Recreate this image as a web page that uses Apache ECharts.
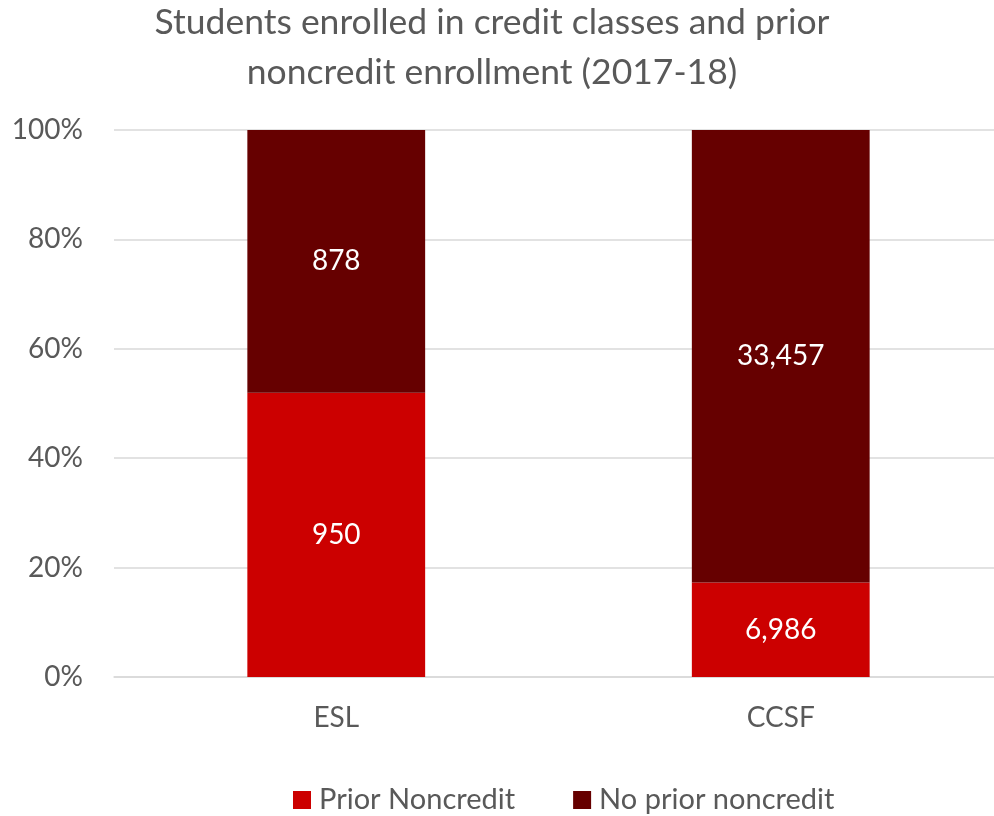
<!DOCTYPE html>
<html>
<head>
<meta charset="utf-8">
<script src="https://cdn.jsdelivr.net/npm/echarts@6/dist/echarts.min.js"></script>
<style>html,body{margin:0;padding:0;background:#fff;overflow:hidden;width:994px;height:816px}#c{width:1010px;height:816px}</style>
</head>
<body>
<div id="c"></div>
<script>
const categories = ['ESL', 'CCSF'];
const priorNoncredit = [950, 6986];
const noPriorNoncredit = [878, 33457];
const yTicks = [0, 20, 40, 60, 80, 100];

const totals = categories.map((c, i) => priorNoncredit[i] + noPriorNoncredit[i]);
const pct = (arr) => arr.map((v, i) => ({ value: v / totals[i] * 100, raw: v }));

const FONT = 'Lato';
const GRAY = '#595959';
const chart = echarts.init(document.getElementById('c'), null, { renderer: 'canvas' });
chart.setOption({
  backgroundColor: '#ffffff',
  animation: false,
  title: {
    text: 'Students enrolled in credit classes and prior\nnoncredit enrollment (2017-18)',
    left: 487, top: -7, textAlign: 'center',
    textStyle: { fontFamily: FONT, fontSize: 35.5, fontWeight: 'normal', color: GRAY, lineHeight: 50 }
  },
  legend: {
    data: ['Prior Noncredit', 'No prior noncredit'],
    left: 293, top: 782, padding: 0,
    icon: 'rect', itemWidth: 18, itemHeight: 18, itemGap: 58,
    textStyle: { fontFamily: FONT, fontSize: 29, lineHeight: 36, color: GRAY, padding: [0, 0, 0, 3] }
  },
  grid: { left: 114, top: 130, width: 889, height: 547, containLabel: false },
  xAxis: {
    type: 'category', data: categories,
    axisLine: { lineStyle: { color: '#d9d9d9', width: 1.5 } },
    axisTick: { show: false },
    axisLabel: { fontFamily: FONT, fontSize: 28, color: GRAY, margin: 27 }
  },
  yAxis: {
    type: 'value', min: yTicks[0], max: yTicks[yTicks.length - 1], interval: 20,
    axisLine: { show: false }, axisTick: { show: false },
    splitLine: { lineStyle: { color: '#d9d9d9', width: 1.5 } },
    axisLabel: { fontFamily: FONT, fontSize: 28, color: GRAY, margin: 31, formatter: '{value}%' }
  },
  series: [
    {
      name: 'Prior Noncredit', type: 'bar', stack: 'total', barWidth: '40%',
      data: pct(priorNoncredit),
      itemStyle: { color: '#cc0000' },
      label: { show: true, position: 'inside', color: '#ffffff', fontFamily: FONT, fontSize: 28,
        formatter: (p) => p.data.raw.toLocaleString('en-US') }
    },
    {
      name: 'No prior noncredit', type: 'bar', stack: 'total', barWidth: '40%',
      data: pct(noPriorNoncredit),
      itemStyle: { color: '#660000' },
      label: { show: true, position: 'inside', color: '#ffffff', fontFamily: FONT, fontSize: 28,
        formatter: (p) => p.data.raw.toLocaleString('en-US') }
    }
  ]
});
</script>
</body>
</html>
